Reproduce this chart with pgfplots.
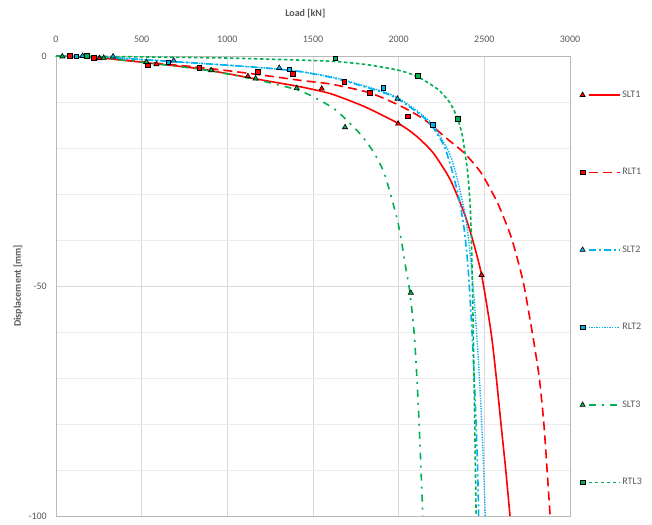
\documentclass[border=0pt]{standalone}
\usepackage{pgfplots}
\pgfplotsset{compat=1.18}
\usepackage{fontspec}
\setmainfont{Carlito}
\definecolor{cred}{HTML}{FF0000}
\definecolor{cblue}{HTML}{00B0F0}
\definecolor{cgreen}{HTML}{00B050}
\definecolor{txt}{HTML}{595959}
\definecolor{gridc}{HTML}{D9D9D9}
\definecolor{gridm}{HTML}{EBEBEB}
\pgfplotsset{
  legtri/.style={legend image code/.code={
     \draw[##1] (6pt,0pt) -- (37pt,0pt);
     \path plot[mark=triangle*, mark size=3pt, mark options={solid, fill=#1, draw=black, line width=0.6pt}] coordinates {(0pt,0pt)};}},
  legsq/.style={legend image code/.code={
     \draw[##1] (6pt,0pt) -- (37pt,0pt);
     \path plot[mark=square*, mark size=2.3pt, mark options={solid, fill=#1, draw=black, line width=0.6pt}] coordinates {(0pt,0pt)};}},
  tri/.style={only marks, mark=triangle*, mark size=3pt, mark options={solid, fill=#1, draw=black, line width=0.6pt}, forget plot},
  sq/.style={only marks, mark=square*, mark size=2.3pt, mark options={solid, fill=#1, draw=black, line width=0.6pt}, forget plot},
}
\begin{document}
\begin{tikzpicture}
\useasboundingbox (-56pt,-8pt) rectangle (596pt,516pt);
\begin{axis}[
  width=514pt, height=460pt, scale only axis,
  xmin=0, xmax=3000, ymin=-100, ymax=0,
  xtick={0,500,1000,1500,2000,2500,3000},
  ytick={-100,-50,0},
  minor ytick={-90,-80,-70,-60,-40,-30,-20,-10},
  xmajorgrids, ymajorgrids, yminorgrids,
  major grid style={gridc, line width=0.8pt},
  minor grid style={gridm, line width=0.8pt},
  major tick length=0pt, minor tick length=0pt,
  axis line style={draw=gray!55, line width=0.8pt},
  xticklabel pos=upper,
  /pgf/number format/assume math mode=true,
  /pgf/number format/set thousands separator={},
  tick label style={font=\fontsize{10}{12}\selectfont, text=txt},
  xticklabel style={anchor=base, yshift=13pt},
  yticklabel style={anchor=east, inner sep=0pt, xshift=-9pt},
  xlabel={\textbf{Load [kN]}},
  ylabel={\textbf{Displacement [mm]}},
  label style={font=\fontsize{10}{12}\selectfont, text=txt},
  xlabel style={at={(axis description cs:0.485,1)}, anchor=center, yshift=42pt},
  ylabel style={at={(axis description cs:-0.074,0.5)}, anchor=center},
  legend style={at={(axis description cs:1,1)}, anchor=north west, xshift=10pt, yshift=-33pt,
     draw=none, fill=none, inner sep=0pt, outer sep=0pt,
     font=\fontsize{10}{12}\selectfont, text=txt, row sep=65.5pt},
  legend cell align=left,
]
% ---- marker series ----
\addplot[tri=cred] coordinates {(254,-0.5) (586,-1.8) (1120,-4.4) (1551,-7.1) (1997,-14.7) (2484,-47.6)};
\addplot[sq=cred] coordinates {(79,0) (219,-0.4) (535,-2.0) (836,-2.6) (1177,-3.4) (1383,-3.9) (1683,-5.6) (1831,-8) (2054,-13.1)};
\addplot[tri=cblue] coordinates {(155,0) (333,-0.1) (687,-1.0) (1303,-2.6) (1993,-9.3)};
\addplot[sq=cblue] coordinates {(118,-0.1) (656,-1.4) (1362,-2.9) (1911,-6.9) (2198,-14.9)};
\addplot[tri=cgreen] coordinates {(37,-0.1) (278,-0.4) (527,-1.3) (906,-3.1) (1165,-4.9) (1405,-7.0) (1687,-15.5) (2071,-51.5)};
\addplot[sq=cgreen] coordinates {(180,0) (1631,-0.5) (2110,-4.3) (2344,-13.6)};
% ---- curves ----
\addplot[cred, line width=1.6pt, smooth, tension=0.4, legtri=cred] coordinates {
(0,0) (250,-0.4) (512,-1.4) (843,-2.8) (1153,-4.9) (1427,-6.7) (1603,-8.2) (1800,-11) (2000,-14.7)
(2100,-17.3) (2200,-21.0) (2300,-26.8) (2383,-34.2) (2432,-40) (2484,-47.6) (2539,-60) (2570,-70)
(2600,-81) (2625,-90) (2650,-100)};
\addlegendentry{SLT1}
\addplot[cred, line width=1.6pt, dash pattern=on 9pt off 5pt, smooth, tension=0.4, legsq=cred] coordinates {
(0,0) (250,-0.4) (512,-1.3) (843,-2.5) (1153,-3.9) (1427,-5.3) (1603,-6.1) (1831,-8) (2013,-10.9)
(2149,-13.8) (2286,-18.1) (2383,-21.1) (2481,-25.4) (2578,-32) (2656,-39.3) (2705,-45.8) (2733,-50.2)
(2781,-60.4) (2820,-69.8) (2849,-80.7) (2884,-100)};
\addlegendentry{RLT1}
\addplot[cblue, line width=1.6pt, dash pattern=on 7pt off 3pt on 2pt off 3pt, smooth, tension=0.4, legtri=cblue] coordinates {
(0,0) (250,-0.2) (512,-0.8) (800,-1.5) (1038,-2.1) (1250,-2.7) (1428,-3.4) (1600,-4.6) (1720,-5.8)
(1915,-8) (1993,-9.3) (2110,-12.3) (2188,-14.9) (2266,-19.6) (2315,-25.4) (2354,-31.3) (2383,-37.8)
(2405,-46) (2425,-58) (2440,-69) (2452,-80) (2461,-90) (2467,-100)};
\addlegendentry{SLT2}
\addplot[cblue, line width=1.4pt, dash pattern=on 1.3pt off 1.3pt, smooth, tension=0.4, legsq=cblue] coordinates {
(0,0) (250,-0.2) (512,-0.8) (800,-1.5) (1038,-2.1) (1250,-2.7) (1428,-3.4) (1600,-4.5) (1720,-5.6)
(1915,-7.8) (2000,-9.2) (2110,-12) (2198,-14.9) (2296,-21.1) (2344,-27) (2393,-35.6) (2420,-44)
(2445,-55) (2465,-66) (2480,-76) (2493,-87) (2506,-100)};
\addlegendentry{RLT2}
\addplot[cgreen, line width=1.6pt, dash pattern=on 7pt off 6pt on 2pt off 6pt, smooth, tension=0.4, legtri=cgreen] coordinates {
(0,0) (250,-0.4) (512,-1.4) (843,-2.9) (1153,-5.0) (1427,-7.6) (1600,-10.9) (1662,-12.7) (1779,-17.1)
(1857,-21.1) (1915,-25.4) (1964,-31.6) (1997,-36.4) (2022,-41.5) (2042,-46.2) (2064,-51) (2090,-60)
(2107,-70.5) (2122,-82.2) (2141,-100)};
\addlegendentry{SLT3}
\addplot[cgreen, line width=1.6pt, dash pattern=on 3.5pt off 2.5pt, smooth, tension=0.4, legsq=cgreen] coordinates {
(0,0) (500,-0.2) (1000,-0.45) (1428,-0.9) (1633,-1.2) (1818,-1.9) (2000,-3.1) (2110,-4.5) (2227,-7.2)
(2300,-10.2) (2344,-13.6) (2370,-17) (2383,-20) (2403,-25.4) (2418,-33) (2426,-42) (2432,-53)
(2442,-75) (2452,-100)};
\addlegendentry{RTL3}
\end{axis}
\end{tikzpicture}
\end{document}
